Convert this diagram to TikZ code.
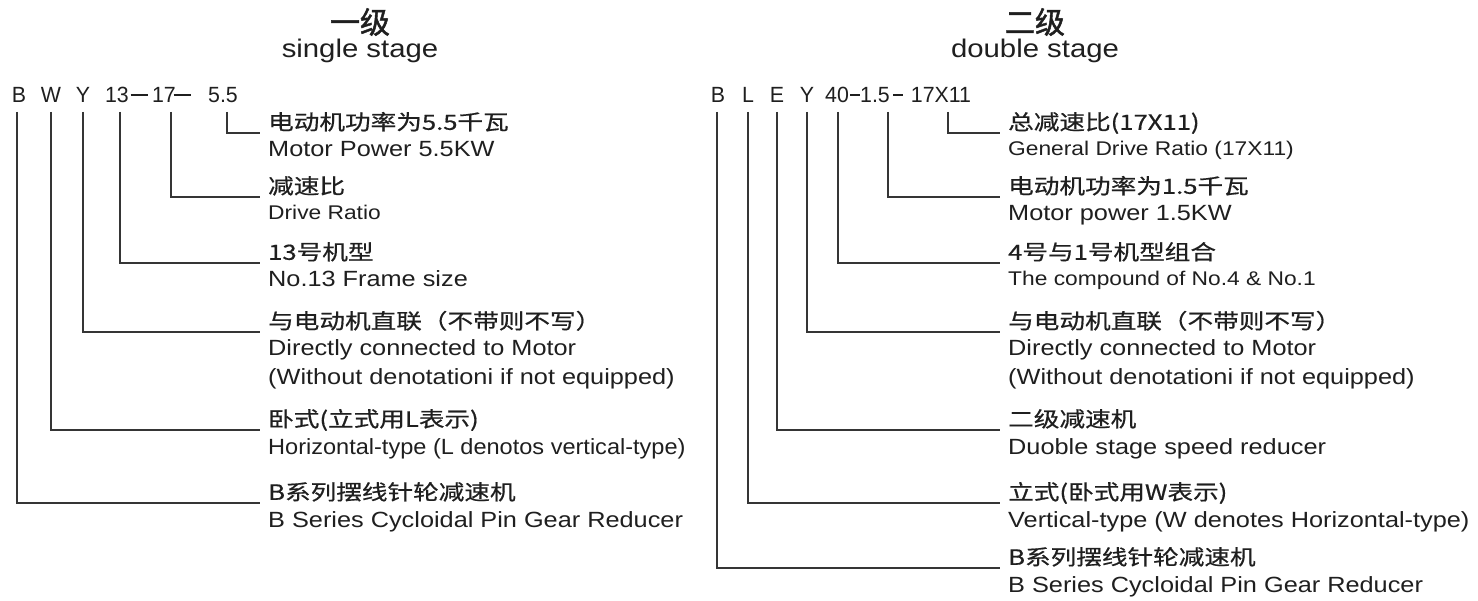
\documentclass[tikz,border=0pt]{standalone}
\usepackage{fontspec}
\usepackage{tikz}
\usetikzlibrary{positioning}
\newfontfamily\enfont{Liberation Sans}[FakeStretch=1.15]
\newfontfamily\ennarrowfont{Liberation Sans}[FakeStretch=1.07]
\newfontfamily\codefamily{Liberation Sans}[FakeStretch=0.97]
\newfontfamily\cjkfont{Noto Sans CJK SC}[FakeStretch=1.22, FakeBold=0.6]
\newfontfamily\cjktitlefont{Noto Sans CJK SC}[FakeBold=1.5]
\newcommand{\codefont}{\codefamily\fontsize{22pt}{26pt}\selectfont}
\newcommand{\enbigfont}{\enfont\fontsize{22pt}{26pt}\selectfont}
\newcommand{\ensmallfont}{\enfont\fontsize{19.8pt}{24pt}\selectfont}
\newcommand{\cnfont}{\cjkfont\fontsize{21pt}{25pt}\selectfont}
\newcommand{\longdash}{\rule[6.5pt]{17pt}{2.4pt}}
\newcommand{\shortdash}{\rule[7pt]{10pt}{1.7pt}}
\definecolor{ink}{gray}{0.12}
\tikzstyle{code} = [
    anchor=base,
    inner sep=0pt,
    outer ysep=9pt,
    text height=16pt,
    text depth=0pt,
    text=ink,
    font=\codefont
]
\tikzstyle{cnlabel} = [
    anchor=south west,
    inner xsep=8pt,
    inner ysep=3pt,
    text depth=0pt,
    text=ink,
    font=\cnfont
]
\tikzstyle{enlabel} = [
    anchor=base west,
    inner xsep=8pt,
    text=ink,
    font=\enbigfont
]
\tikzstyle{ensmall} = [
    enlabel,
    font=\ensmallfont
]
\tikzstyle{cntitle} = [
    text=ink,
    font=\cjktitlefont\fontsize{30pt}{32pt}\selectfont
]
\tikzstyle{entitle} = [
    text=ink,
    font=\enfont\fontsize{25.5pt}{30pt}\selectfont
]
\tikzstyle{lead} = [
    draw=ink!90,
    line width=1.1pt
]
\begin{document}
\begin{tikzpicture}[x=1pt, y=-1pt]
        \useasboundingbox[fill=white] (0,0) rectangle (1478,601);

        % Titles
        \node[cntitle] (single) at (360,22) {一级};
        \node[entitle] (singleen) at (360,51) {single stage};
        \node[cntitle] (double) at (1035,22) {二级};
        \node[entitle] (doubleen) at (1035,51) {double stage};

        % Single stage code
        \node[code] (cB) at (19,103) {B};
        \node[code] (cW) at (51,103) {W};
        \node[code] (cY) at (83,103) {Y};
        \node[code] (c13) at (117,103) {13};
        \node[code] (cd1) at (139,103) {\longdash};
        \node[code] (c17) at (164,103) {17};
        \node[code] (cd2) at (182,103) {\longdash};
        \node[code] (c55) at (223,103) {5.5};

        % Single stage labels
        \node[cnlabel] (t55) at (260,133) {电动机功率为5.5千瓦};
        \node[enlabel] at ([yshift=-24pt]t55.south west) {Motor Power 5.5KW};
        \node[cnlabel] (t17) at (260,197) {减速比};
        \node[ensmall] at ([yshift=-23pt]t17.south west) {Drive Ratio};
        \node[cnlabel] (t13) at (260,263) {13号机型};
        \node[enlabel] at ([yshift=-24pt]t13.south west) {No.13 Frame size};
        \node[cnlabel] (tY) at (260,332) {与电动机直联（不带则不写）};
        \node[enlabel] (eY) at ([yshift=-24pt]tY.south west) {Directly connected to Motor};
        \node[enlabel] at ([yshift=-29pt]eY.base west) {(Without denotationi if not equipped)};
        \node[cnlabel] (tW) at (260,430) {卧式(立式用L表示)};
        \node[enlabel, font=\ennarrowfont\fontsize{22pt}{26pt}\selectfont] at ([yshift=-24pt]tW.south west) {Horizontal-type (L denotos vertical-type)};
        \node[cnlabel] (tB) at (260,503) {B系列摆线针轮减速机};
        \node[enlabel] at ([yshift=-24pt]tB.south west) {B Series Cycloidal Pin Gear Reducer};

        % Single stage leads
        \draw[lead] ([xshift=4pt]c55.south) |- (t55.south west);
        \draw[lead] ([xshift=7pt]c17.south) |- (t17.south west);
        \draw[lead] ([xshift=3pt]c13.south) |- (t13.south west);
        \draw[lead] (cY.south) |- (tY.south west);
        \draw[lead] (cW.south) |- (tW.south west);
        \draw[lead] ([xshift=-2pt]cB.south) |- (tB.south west);

        % Double stage code
        \node[code] (dB) at (718,103) {B};
        \node[code] (dL) at (748,103) {L};
        \node[code] (dE) at (777,103) {E};
        \node[code] (dY) at (807,103) {Y};
        \node[code] (d40) at (837,103) {40};
        \node[code] (dd1) at (855,103) {\shortdash};
        \node[code] (d15) at (875,103) {1.5};
        \node[code] (dd2) at (898,103) {\shortdash};
        \node[code] (d17) at (941,103) {17X11};

        % Double stage labels
        \node[cnlabel] (u17) at (1000,133) {总减速比(17X11)};
        \node[ensmall] at ([yshift=-23pt]u17.south west) {General Drive Ratio (17X11)};
        \node[cnlabel] (u15) at (1000,197) {电动机功率为1.5千瓦};
        \node[enlabel] at ([yshift=-24pt]u15.south west) {Motor power 1.5KW};
        \node[cnlabel] (u40) at (1000,263) {4号与1号机型组合};
        \node[ensmall] at ([yshift=-23pt]u40.south west) {The compound of No.4 \& No.1};
        \node[cnlabel] (uY) at (1000,332) {与电动机直联（不带则不写）};
        \node[enlabel] (fY) at ([yshift=-24pt]uY.south west) {Directly connected to Motor};
        \node[enlabel] at ([yshift=-29pt]fY.base west) {(Without denotationi if not equipped)};
        \node[cnlabel] (uE) at (1000,430) {二级减速机};
        \node[enlabel] at ([yshift=-24pt]uE.south west) {Duoble stage speed reducer};
        \node[cnlabel] (uL) at (1000,503) {立式(卧式用W表示)};
        \node[enlabel] at ([yshift=-24pt]uL.south west) {Vertical-type (W denotes Horizontal-type)};
        \node[cnlabel] (uB) at (1000,568) {B系列摆线针轮减速机};
        \node[enlabel] at ([yshift=-24pt]uB.south west) {B Series Cycloidal Pin Gear Reducer};

        % Double stage leads
        \draw[lead] ([xshift=7pt]d17.south) |- (u17.south west);
        \draw[lead] ([xshift=13pt]d15.south) |- (u15.south west);
        \draw[lead] ([xshift=1pt]d40.south) |- (u40.south west);
        \draw[lead] (dY.south) |- (uY.south west);
        \draw[lead] (dE.south) |- (uE.south west);
        \draw[lead] (dL.south) |- (uL.south west);
        \draw[lead] ([xshift=-1pt]dB.south) |- (uB.south west);
    \end{tikzpicture}
\end{document}
